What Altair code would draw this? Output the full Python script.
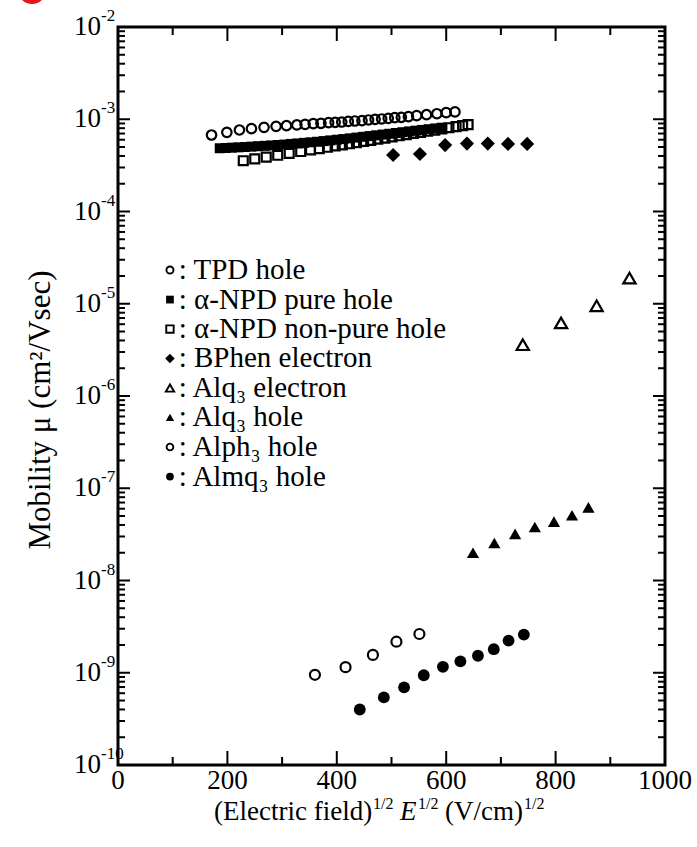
import altair as alt
import pandas as pd

# ---- measured series: E^1/2 in (V/cm)^1/2, mobility in cm^2/Vs ----
tpd_E = [171, 199, 222, 244, 267, 289, 308, 327, 342, 357, 371, 385, 397, 409, 421,
         433, 446, 458, 470, 482, 494, 506, 518, 531, 546, 564, 583, 600, 616]
tpd_mu = [6.75e-4, 7.22e-4, 7.65e-4, 7.91e-4, 8.17e-4, 8.38e-4, 8.51e-4, 8.67e-4,
          8.81e-4, 8.96e-4, 9.04e-4, 9.19e-4, 9.27e-4, 9.33e-4, 9.48e-4, 9.57e-4,
          9.66e-4, 9.82e-4, 9.98e-4, 1.007e-3, 1.023e-3, 1.04e-3, 1.05e-3, 1.067e-3,
          1.094e-3, 1.12e-3, 1.148e-3, 1.178e-3, 1.2e-3]

npd_pure_E = [186, 197, 208, 220, 232, 244, 256, 268, 280, 292, 304, 316, 328, 340,
              352, 364, 376, 388, 400, 412, 424, 436, 448, 460, 472, 484, 496, 508,
              520, 532, 544, 556, 568, 580, 592]
npd_pure_mu = [4.85e-4, 4.88e-4, 4.92e-4, 4.96e-4, 5.00e-4, 5.05e-4, 5.10e-4, 5.15e-4,
               5.20e-4, 5.26e-4, 5.32e-4, 5.40e-4, 5.47e-4, 5.55e-4, 5.62e-4, 5.70e-4,
               5.80e-4, 5.90e-4, 6.00e-4, 6.10e-4, 6.21e-4, 6.33e-4, 6.45e-4, 6.57e-4,
               6.70e-4, 6.83e-4, 6.96e-4, 7.10e-4, 7.24e-4, 7.38e-4, 7.52e-4, 7.66e-4,
               7.80e-4, 7.95e-4, 8.10e-4]

npd_np_E = [229, 250, 271, 292, 313, 334, 352, 368, 383, 397, 410, 423, 436, 449, 462,
            475, 488, 501, 514, 527, 540, 553, 566, 579, 592, 605, 618, 630, 640]
npd_np_mu = [3.55e-4, 3.72e-4, 3.89e-4, 4.07e-4, 4.27e-4, 4.47e-4, 4.65e-4, 4.81e-4,
             4.97e-4, 5.13e-4, 5.27e-4, 5.42e-4, 5.58e-4, 5.74e-4, 5.91e-4, 6.08e-4,
             6.25e-4, 6.44e-4, 6.62e-4, 6.81e-4, 7.01e-4, 7.21e-4, 7.41e-4, 7.63e-4,
             7.85e-4, 8.09e-4, 8.32e-4, 8.54e-4, 8.73e-4]

bphen_E = [503, 552, 598, 638, 676, 713, 748]
bphen_mu = [4.1e-4, 4.2e-4, 5.25e-4, 5.45e-4, 5.45e-4, 5.4e-4, 5.4e-4]

alq_e_E = [740, 810, 875, 935]
alq_e_mu = [3.6e-6, 6.2e-6, 9.5e-6, 1.9e-5]

alq_h_E = [649, 688, 726, 762, 797, 830, 860]
alq_h_mu = [2.0e-8, 2.55e-8, 3.2e-8, 3.8e-8, 4.35e-8, 5.1e-8, 6.2e-8]

alph_E = [360, 416, 466, 509, 551]
alph_mu = [9.5e-10, 1.15e-9, 1.56e-9, 2.17e-9, 2.63e-9]

almq_E = [442, 486, 523, 559, 594, 626, 658, 687, 714, 742]
almq_mu = [4.0e-10, 5.4e-10, 6.95e-10, 9.4e-10, 1.16e-9, 1.33e-9, 1.53e-9,
           1.8e-9, 2.23e-9, 2.59e-9]

# legend entries
legend_labels = [": TPD hole", ": \u03b1-NPD pure hole", ": \u03b1-NPD non-pure hole",
                 ": BPhen electron", ": Alq\u2083 electron", ": Alq\u2083 hole",
                 ": Alph\u2083 hole", ": Almq\u2083 hole"]
legend_mu = [2.32e-5, 1.11e-5, 5.32e-6, 2.55e-6, 1.22e-6, 5.85e-7, 2.80e-7, 1.34e-7]

# axis ticks and labels
x_major = [0, 200, 400, 600, 800, 1000]
x_minor = [100, 300, 500, 700, 900]
y_exps = [-2, -3, -4, -5, -6, -7, -8, -9, -10]
y_major = [10.0 ** e for e in y_exps]
y_minor = [m * 10.0 ** e for e in range(-10, -2) for m in range(2, 10)]

W, H = 547, 738
FONT = "Liberation Serif"

xs = alt.Scale(domain=[0, 1000], nice=False, zero=False)
ys = alt.Scale(type="log", domain=[1e-10, 1e-2], nice=False)

one = pd.DataFrame({"E": [500.0], "mu": [1e-6]})


def series_layer(E, mu, shape, filled, size, sw=2.2):
    df = pd.DataFrame({"E": E, "mu": mu})
    return alt.Chart(df).mark_point(
        shape=shape, filled=filled, size=size, color="black",
        strokeWidth=sw, opacity=1, fillOpacity=1
    ).encode(
        x=alt.X("E:Q", scale=xs, axis=None),
        y=alt.Y("mu:Q", scale=ys, axis=None),
    )


def x_tick_rules(values, length):
    df = pd.DataFrame({"E": values})
    rule = alt.Chart(df).mark_rule(color="black", strokeWidth=2)
    bottom = rule.encode(x=alt.X("E:Q", scale=xs, axis=None),
                         y=alt.value(H), y2=alt.value(H - length))
    top = rule.encode(x=alt.X("E:Q", scale=xs, axis=None),
                      y=alt.value(0), y2=alt.value(length))
    return [bottom, top]


def y_tick_rules(values, length):
    df = pd.DataFrame({"mu": values})
    rule = alt.Chart(df).mark_rule(color="black", strokeWidth=2)
    left = rule.encode(y=alt.Y("mu:Q", scale=ys, axis=None),
                       x=alt.value(0), x2=alt.value(length))
    right = rule.encode(y=alt.Y("mu:Q", scale=ys, axis=None),
                        x=alt.value(W), x2=alt.value(W - length))
    return [left, right]


tick_layers = (x_tick_rules(x_major, 14) + x_tick_rules(x_minor, 8)
               + y_tick_rules(y_major, 12) + y_tick_rules(y_minor, 7))

# x tick labels
xlab_df = pd.DataFrame({"E": x_major, "t": [str(v) for v in x_major]})
x_labels = alt.Chart(xlab_df).mark_text(
    font=FONT, fontSize=27, align="center", baseline="alphabetic", color="black"
).encode(x=alt.X("E:Q", scale=xs, axis=None), y=alt.value(H + 24), text="t:N")

# y tick labels: "10" with a raised exponent
ylab_df = pd.DataFrame({"mu": y_major, "exp": [str(e) for e in y_exps]})
y_base = alt.Chart(ylab_df).mark_text(
    font=FONT, fontSize=27, align="right", baseline="middle", color="black", dx=-17
).encode(x=alt.value(0), y=alt.Y("mu:Q", scale=ys, axis=None), text=alt.value("10"))
y_exp = alt.Chart(ylab_df).mark_text(
    font=FONT, fontSize=17, align="left", baseline="middle", color="black", dx=-17, dy=-11
).encode(x=alt.value(0), y=alt.Y("mu:Q", scale=ys, axis=None), text="exp:N")

# axis titles
y_title = alt.Chart(one).mark_text(
    font=FONT, fontSize=31, angle=270, align="center", baseline="middle", color="black"
).encode(x=alt.value(-77), y=alt.value(383), text=alt.value("Mobility \u03bc (cm\u00b2/Vsec)"))

title_parts = [
    ("(Electric field)", 96, 0, 27, "normal"),
    ("1/2", 255, -11, 16, "normal"),
    ("E", 282, 0, 27, "italic"),
    ("1/2", 300, -11, 16, "normal"),
    ("(V/cm)", 327, 0, 27, "normal"),
    ("1/2", 406, -11, 16, "normal"),
]
x_title = alt.layer(*[
    alt.Chart(one).mark_text(font=FONT, fontSize=fs, fontStyle=st, align="left",
                             baseline="alphabetic", color="black", dy=dy)
    .encode(x=alt.value(px), y=alt.value(H + 55), text=alt.value(t))
    for t, px, dy, fs, st in title_parts
])

# legend
legend_shapes = [("circle", False, 50), ("square", True, 60), ("square", False, 55),
                 ("diamond", True, 90), ("triangle-up", False, 70),
                 ("triangle-up", True, 70), ("circle", False, 45), ("circle", True, 60)]
legend_layers = []
for lab, m, (shp, fil, sz) in zip(legend_labels, legend_mu, legend_shapes):
    legend_layers.append(series_layer([95], [m], shp, fil, sz, sw=1.9))
    legend_layers.append(
        alt.Chart(pd.DataFrame({"E": [111], "mu": [m], "t": [lab]})).mark_text(
            font=FONT, fontSize=29, align="left", baseline="middle", color="black"
        ).encode(x=alt.X("E:Q", scale=xs, axis=None),
                 y=alt.Y("mu:Q", scale=ys, axis=None), text="t:N")
    )

corner = alt.Chart(one).mark_point(shape="circle", filled=True, color="#e8141c",
                                   size=840, opacity=1).encode(
    x=alt.value(-86), y=alt.value(-37.5))

data_layers = [
    series_layer(npd_pure_E, npd_pure_mu, "square", True, 100),
    series_layer(npd_np_E, npd_np_mu, "square", False, 80),
    series_layer(tpd_E, tpd_mu, "circle", False, 90),
    series_layer(bphen_E, bphen_mu, "diamond", True, 200),
    series_layer(alq_e_E, alq_e_mu, "triangle-up", False, 150),
    series_layer(alq_h_E, alq_h_mu, "triangle-up", True, 150),
    series_layer(alph_E, alph_mu, "circle", False, 100),
    series_layer(almq_E, almq_mu, "circle", True, 140),
]

chart = alt.layer(
    *tick_layers, x_labels, y_base, y_exp, y_title, x_title,
    *legend_layers, *data_layers, corner
).properties(
    width=W, height=H,
    autosize=alt.AutoSizeParams(type="none"),
    padding={"left": 118, "top": 27, "right": 32, "bottom": 82},
    background="white",
).configure_view(stroke="black", strokeWidth=3)

chart.save("out.html", embed_options={"renderer": "svg", "actions": False})
